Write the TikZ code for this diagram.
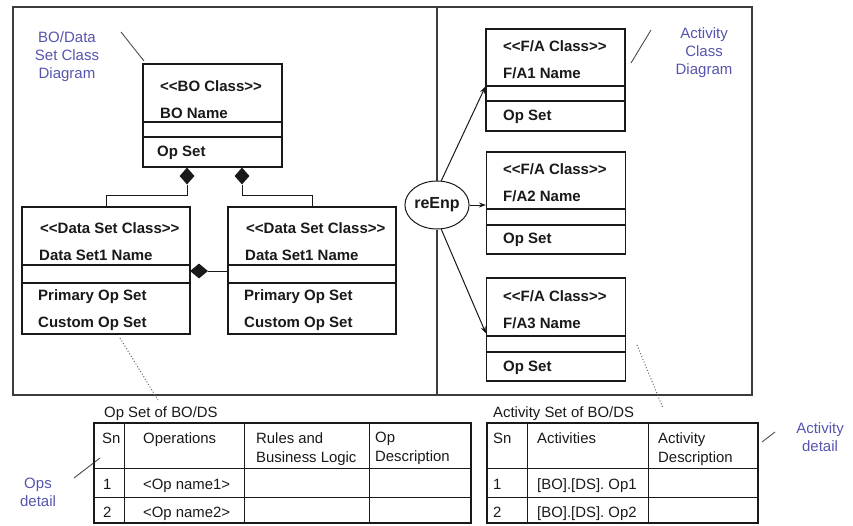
\documentclass[tikz,border=0pt]{standalone}
\usepackage{fontspec}
\setmainfont{Liberation Sans}[Ligatures=TeXOff]
\usetikzlibrary{shapes.geometric,arrows.meta,calc}
\definecolor{lblue}{RGB}{85,85,175}
\definecolor{framec}{RGB}{60,60,60}
\definecolor{inkc}{RGB}{25,25,25}
\begin{document}
\begin{tikzpicture}[x=1pt,y=-1pt,
 classbox/.style={draw=inkc, line width=1.1pt, inner sep=0pt, rectangle},
 compline/.style={draw=inkc, line width=1.1pt},
 ctext/.style={anchor=base west, inner sep=0pt, font=\fontsize{15}{17}\selectfont\bfseries, text=inkc},
 ttext/.style={anchor=base west, inner sep=0pt, font=\fontsize{14.9}{19}\selectfont, text=inkc},
 ttwo/.style={anchor=north west, align=left, inner sep=0pt, font=\fontsize{14.9}{19}\selectfont, text=inkc},
 blab/.style={align=center, inner sep=0pt, anchor=north, text=lblue, font=\fontsize{15}{18}\selectfont},
 dia/.style={diamond, fill=inkc, draw=none, inner sep=0pt},
 conn/.style={draw=inkc, line width=1pt},
 arr/.style={conn, -{Stealth[length=7pt,width=5pt]}},
 leader/.style={draw=black!70, line width=0.9pt},
 dotl/.style={draw=black!60, line width=1pt, dotted},
 tinner/.style={draw=inkc, line width=1pt},
 touter/.style={draw=inkc, line width=2.8pt},
]
\useasboundingbox (0,0) rectangle (853,525);

% outer frame
\draw[framec, line width=1.3pt] (13,7) rectangle (752,395);
\coordinate (ftop) at (0,7);
\coordinate (fbot) at (0,395);

% BO class
\node[classbox, minimum width=139pt, minimum height=103pt] (bo) at (212.5,115.5) {};
\draw[compline] (143,122) -- (282,122);
\draw[compline] (143,137) -- (282,137);
\node[ctext] (bo1) at (160,91) {<<BO Class>>};
\node[ctext] (bo2) at (160,118) {BO Name};
\node[ctext] (bo3) at (157,156) {Op Set};

% Data set classes
\node[classbox, minimum width=168pt, minimum height=127pt] (ds1) at (106,270.5) {};
\draw[compline] (22,265) -- (190,265);
\draw[compline] (22,283) -- (190,283);
\node[ctext] (ds1a) at (40,233) {<<Data Set Class>>};
\node[ctext] (ds1b) at (39,260) {Data Set1 Name};
\node[ctext] (ds1c) at (38,300) {Primary Op Set};
\node[ctext] (ds1d) at (38,327) {Custom Op Set};

\node[classbox, minimum width=168pt, minimum height=127pt] (ds2) at (312,270.5) {};
\draw[compline] (228,265) -- (396,265);
\draw[compline] (228,283) -- (396,283);
\node[ctext] (ds2a) at (246,233) {<<Data Set Class>>};
\node[ctext] (ds2b) at (245,260) {Data Set1 Name};
\node[ctext] (ds2c) at (244,300) {Primary Op Set};
\node[ctext] (ds2d) at (244,327) {Custom Op Set};

% composition diamonds
\node[dia, minimum width=15pt, minimum height=17pt] (d1) at (187,176) {};
\node[dia, minimum width=15pt, minimum height=17pt] (d2) at (242,176) {};
\node[dia, minimum width=18pt, minimum height=15pt] (d3) at (199,271) {};
\draw[conn] (d1.south) -- ++(0,11) -| (ds1.north);
\draw[conn] (d2.south) -- ++(0,11) -| (ds2.north);
\draw[conn] (d3.east) -- (d3.east -| ds2.west);

% F/A classes
\node[classbox, minimum width=139pt, minimum height=102pt] (fa1) at (555.5,80) {};
\draw[compline] (486,86) -- (625,86);
\draw[compline] (486,101) -- (625,101);
\node[ctext] (fa1a) at (503,51) {<<F/A Class>>};
\node[ctext] (fa1b) at (503,78) {F/A1 Name};
\node[ctext] (fa1c) at (503,120) {Op Set};

\node[classbox, minimum width=139pt, minimum height=102pt] (fa2) at (556,203) {};
\draw[compline] (486.5,209) -- (625.5,209);
\draw[compline] (486.5,225) -- (625.5,225);
\node[ctext] (fa2a) at (503,174) {<<F/A Class>>};
\node[ctext] (fa2b) at (503,201) {F/A2 Name};
\node[ctext] (fa2c) at (503,243) {Op Set};

\node[classbox, minimum width=139pt, minimum height=103pt] (fa3) at (556,329.5) {};
\draw[compline] (486.5,336) -- (625.5,336);
\draw[compline] (486.5,352) -- (625.5,352);
\node[ctext] (fa3a) at (503,301) {<<F/A Class>>};
\node[ctext] (fa3b) at (503,328) {F/A3 Name};
\node[ctext] (fa3c) at (503,371) {Op Set};

% reEnp
\node[draw=inkc, line width=1pt, ellipse, minimum width=60pt, minimum height=48pt, inner sep=0pt,
      font=\fontsize{16}{18}\selectfont\bfseries, text=inkc] (re) at (437,205) {reEnp};
\draw[framec, line width=1.3pt] (re.north) -- (re.north |- ftop);
\draw[framec, line width=1.3pt] (re.south) -- (re.south |- fbot);
\coordinate (t1) at ($(fa1.north west)+(0,58)$);
\coordinate (t3) at ($(fa3.north west)+(0,56)$);
\draw[arr] (re.80) -- (t1);
\draw[arr] (re.east) -- (re.east -| fa2.west);
\draw[arr] (re.-80) -- (t3);

% labels
\node[blab] (lbo) at (67,31) {BO/Data\\Set Class\\Diagram};
\node[blab] (lact) at (704,27) {Activity\\Class\\Diagram};
\node[blab] (lops) at (38,478) {Ops\\detail};
\node[blab] (lad) at (820,422) {Activity\\detail};
\draw[leader] (121,32) -- (144,61);
\draw[leader] (631,63) -- (651,30);
\draw[leader] (74,478) -- (100,458);
\draw[leader] (762,442) -- (775,432);
\draw[dotl] (120,338) -- (158,400);
\draw[dotl] (637,345) -- (663,408);

% left table
\node[ttext] (opt) at (104,417) {Op Set of BO/DS};
\draw[tinner] (94,468) -- (471,468);
\draw[tinner] (94,497) -- (471,497);
\draw[tinner] (124,423) -- (124,523);
\draw[tinner] (244,423) -- (244,523);
\draw[tinner] (369,423) -- (369,523);
\draw[touter] (94,423) rectangle (471,523);
\node[ttext] (lh1) at (102,443) {Sn};
\node[ttext] (lh2) at (143,443) {Operations};
\node[ttwo] (lh3) at (256,432) {Rules and\\Business Logic};
\node[ttwo] (lh4) at (375,432) {Op\\Description};
\node[ttext] (l11) at (103,489) {1};
\node[ttext] (l12) at (143,489) {<Op name1>};
\node[ttext] (l21) at (103,517) {2};
\node[ttext] (l22) at (143,517) {<Op name2>};

% right table
\node[ttext] (act) at (493,417) {Activity Set of BO/DS};
\draw[tinner] (487,468) -- (758,468);
\draw[tinner] (487,497) -- (758,497);
\draw[tinner] (527,423) -- (527,523);
\draw[tinner] (648,423) -- (648,523);
\draw[touter] (487,423) rectangle (758,523);
\node[ttext] (rh1) at (493,443) {Sn};
\node[ttext] (rh2) at (537,443) {Activities};
\node[ttwo] (rh3) at (658,432) {Activity\\Description};
\node[ttext] (r11) at (493,489) {1};
\node[ttext] (r12) at (537,489) {[BO].[DS]. Op1};
\node[ttext] (r21) at (493,517) {2};
\node[ttext] (r22) at (537,517) {[BO].[DS]. Op2};
\end{tikzpicture}
\end{document}
